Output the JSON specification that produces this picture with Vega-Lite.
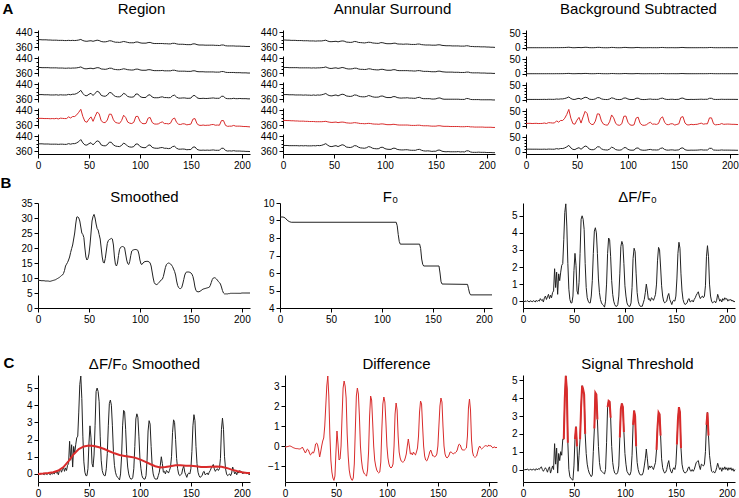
{
"$schema":"https://vega.github.io/schema/vega-lite/v6.json",
"padding":{"left":0,"top":1,"right":0,"bottom":0},
"background":"white",
"config":{"view":{"stroke":null},"font":"Liberation Sans",
"axis":{"grid":false,"domainColor":"#000","tickColor":"#000","tickSize":4,"labelColor":"#000","labelFontSize":10,"labelFont":"Liberation Sans","labelPadding":2,"labelFlush":false,"labelOverlap":false,"titleColor":"#000","titleFont":"Liberation Sans","titleFontSize":15,"titleFontWeight":"normal"},
"line":{"color":"#222","strokeWidth":1}},
"datasets":{
"A":[
{"x":0,"r1":400,"r2":390,"r3":384,"r4":396,"r5":399,"a1":398,"a2":390,"a3":384,"a4":385,"a5":390,"b1":0,"b2":0,"b3":1,"b4":8,"b5":9},
{"x":2,"r1":400,"r2":390,"r3":384,"r4":396,"r5":399,"a1":398,"a2":390,"a3":384,"a4":385,"a5":390,"b1":0,"b2":0,"b3":1,"b4":8.2,"b5":9},
{"x":4,"r1":399,"r2":389,"r3":384,"r4":396,"r5":399,"a1":397,"a2":390,"a3":384,"a4":384,"a5":390,"b1":0,"b2":0,"b3":1,"b4":8.3,"b5":8.9},
{"x":6,"r1":399,"r2":389,"r3":383,"r4":395,"r5":398,"a1":397,"a2":389,"a3":383,"a4":384,"a5":389,"b1":0,"b2":0,"b3":0.9,"b4":7.6,"b5":8.8},
{"x":8,"r1":399,"r2":389,"r3":383,"r4":395,"r5":398,"a1":396,"a2":389,"a3":383,"a4":383,"a5":389,"b1":0,"b2":0,"b3":1,"b4":8,"b5":8.8},
{"x":10,"r1":398,"r2":389,"r3":383,"r4":395,"r5":398,"a1":396,"a2":389,"a3":383,"a4":383,"a5":389,"b1":0,"b2":0,"b3":1,"b4":8.3,"b5":8.8},
{"x":12,"r1":398,"r2":388,"r3":382,"r4":394,"r5":397,"a1":396,"a2":389,"a3":382,"a4":382,"a5":389,"b1":0,"b2":0,"b3":0.9,"b4":7.6,"b5":8.7},
{"x":14,"r1":397,"r2":388,"r3":382,"r4":395,"r5":397,"a1":395,"a2":389,"a3":382,"a4":382,"a5":389,"b1":0,"b2":0,"b3":1,"b4":7.8,"b5":8.6},
{"x":16,"r1":397,"r2":388,"r3":382,"r4":394,"r5":397,"a1":395,"a2":388,"a3":382,"a4":381,"a5":388,"b1":0,"b2":0,"b3":1,"b4":8,"b5":8.6},
{"x":18,"r1":397,"r2":388,"r3":383,"r4":396,"r5":397,"a1":395,"a2":388,"a3":382,"a4":381,"a5":389,"b1":0,"b2":0,"b3":1.2,"b4":9.4,"b5":8.9},
{"x":20,"r1":396,"r2":387,"r3":381,"r4":393,"r5":396,"a1":394,"a2":388,"a3":381,"a4":381,"a5":388,"b1":0,"b2":0,"b3":0.9,"b4":7.6,"b5":8.4},
{"x":22,"r1":396,"r2":387,"r3":383,"r4":397,"r5":397,"a1":394,"a2":388,"a3":382,"a4":380,"a5":389,"b1":0.1,"b2":0.1,"b3":1.5,"b4":10.7,"b5":9.2},
{"x":24,"r1":396,"r2":387,"r3":382,"r4":396,"r5":397,"a1":394,"a2":388,"a3":381,"a4":380,"a5":388,"b1":0.1,"b2":0,"b3":1.4,"b4":10.3,"b5":9},
{"x":26,"r1":395,"r2":386,"r3":382,"r4":395,"r5":396,"a1":393,"a2":388,"a3":381,"a4":379,"a5":388,"b1":0,"b2":0,"b3":1.2,"b4":9.4,"b5":8.7},
{"x":28,"r1":395,"r2":386,"r3":382,"r4":395,"r5":396,"a1":393,"a2":387,"a3":380,"a4":379,"a5":388,"b1":0.1,"b2":0,"b3":1.3,"b4":9.8,"b5":8.8},
{"x":30,"r1":396,"r2":387,"r3":385,"r4":404,"r5":400,"a1":393,"a2":388,"a3":382,"a4":379,"a5":389,"b1":0.3,"b2":0.2,"b3":2.5,"b4":17,"b5":10.8},
{"x":32,"r1":395,"r2":386,"r3":383,"r4":398,"r5":397,"a1":392,"a2":387,"a3":380,"a4":378,"a5":388,"b1":0.2,"b2":0.1,"b3":1.8,"b4":12.3,"b5":9.4},
{"x":34,"r1":396,"r2":387,"r3":386,"r4":406,"r5":400,"a1":393,"a2":388,"a3":382,"a4":378,"a5":390,"b1":0.4,"b2":0.2,"b3":2.8,"b4":18.4,"b5":11.2},
{"x":36,"r1":395,"r2":387,"r3":386,"r4":406,"r5":400,"a1":393,"a2":388,"a3":381,"a4":378,"a5":389,"b1":0.4,"b2":0.2,"b3":2.8,"b4":18.2,"b5":11.1},
{"x":38,"r1":396,"r2":388,"r3":390,"r4":415,"r5":404,"a1":393,"a2":389,"a3":383,"a4":378,"a5":391,"b1":0.6,"b2":0.4,"b3":4.2,"b4":26.1,"b5":13.3},
{"x":40,"r1":398,"r2":390,"r3":397,"r4":429,"r5":411,"a1":395,"a2":390,"a3":386,"a4":379,"a5":395,"b1":1.1,"b2":0.7,"b3":6.4,"b4":39.4,"b5":17},
{"x":42,"r1":401,"r2":393,"r3":407,"r4":445,"r5":422,"a1":397,"a2":393,"a3":390,"a4":380,"a5":400,"b1":1.7,"b2":1.1,"b3":9.6,"b4":57,"b5":22.2},
{"x":44,"r1":395,"r2":387,"r3":390,"r4":406,"r5":404,"a1":392,"a2":388,"a3":382,"a4":377,"a5":391,"b1":0.7,"b2":0.4,"b3":4.3,"b4":26.4,"b5":13.4},
{"x":46,"r1":392,"r2":383,"r3":379,"r4":380,"r5":393,"a1":389,"a2":385,"a3":378,"a4":375,"a5":385,"b1":0,"b2":0,"b3":1.2,"b4":7.3,"b5":8.1},
{"x":48,"r1":391,"r2":383,"r3":378,"r4":375,"r5":392,"a1":389,"a2":385,"a3":377,"a4":374,"a5":384,"b1":0,"b2":0,"b3":0.9,"b4":5.3,"b5":7.5},
{"x":50,"r1":393,"r2":385,"r3":386,"r4":392,"r5":400,"a1":390,"a2":387,"a3":380,"a4":375,"a5":387,"b1":0.5,"b2":0.3,"b3":3.3,"b4":19.5,"b5":11.5},
{"x":52,"r1":394,"r2":386,"r3":391,"r4":404,"r5":405,"a1":391,"a2":388,"a3":382,"a4":376,"a5":389,"b1":0.8,"b2":0.5,"b3":4.9,"b4":29.2,"b5":14.1},
{"x":54,"r1":391,"r2":383,"r3":379,"r4":380,"r5":393,"a1":388,"a2":385,"a3":377,"a4":373,"a5":384,"b1":0.1,"b2":0.1,"b3":1.6,"b4":9.2,"b5":8.5},
{"x":56,"r1":394,"r2":386,"r3":391,"r4":406,"r5":405,"a1":391,"a2":387,"a3":382,"a4":375,"a5":389,"b1":0.8,"b2":0.6,"b3":5.2,"b4":30.6,"b5":14.5},
{"x":58,"r1":397,"r2":389,"r3":402,"r4":430,"r5":415,"a1":393,"a2":390,"a3":386,"a4":376,"a5":394,"b1":1.5,"b2":1,"b3":8.5,"b4":50.2,"b5":19.9},
{"x":60,"r1":395,"r2":388,"r3":397,"r4":421,"r5":411,"a1":392,"a2":388,"a3":384,"a4":375,"a5":391,"b1":1.3,"b2":0.8,"b3":7.3,"b4":42.8,"b5":17.8},
{"x":62,"r1":390,"r2":382,"r3":380,"r4":383,"r5":393,"a1":387,"a2":384,"a3":377,"a4":372,"a5":382,"b1":0.2,"b2":0.2,"b3":2.2,"b4":12.2,"b5":9.3},
{"x":64,"r1":388,"r2":381,"r3":376,"r4":374,"r5":389,"a1":386,"a2":382,"a3":375,"a4":371,"a5":380,"b1":0,"b2":0,"b3":1,"b4":4.9,"b5":7.2},
{"x":66,"r1":388,"r2":380,"r3":375,"r4":373,"r5":388,"a1":385,"a2":382,"a3":374,"a4":370,"a5":379,"b1":0,"b2":0,"b3":0.9,"b4":4,"b5":6.9},
{"x":68,"r1":390,"r2":382,"r3":381,"r4":387,"r5":394,"a1":386,"a2":383,"a3":376,"a4":371,"a5":382,"b1":0.4,"b2":0.2,"b3":2.8,"b4":15.6,"b5":10.1},
{"x":70,"r1":394,"r2":386,"r3":395,"r4":419,"r5":408,"a1":390,"a2":386,"a3":382,"a4":373,"a5":389,"b1":1.2,"b2":0.8,"b3":7.2,"b4":41.6,"b5":17.2},
{"x":72,"r1":393,"r2":386,"r3":394,"r4":418,"r5":407,"a1":389,"a2":386,"a3":381,"a4":372,"a5":388,"b1":1.2,"b2":0.8,"b3":7,"b4":40.7,"b5":16.9},
{"x":74,"r1":389,"r2":381,"r3":381,"r4":388,"r5":393,"a1":385,"a2":382,"a3":376,"a4":370,"a5":381,"b1":0.4,"b2":0.3,"b3":3,"b4":16.4,"b5":10.2},
{"x":76,"r1":386,"r2":379,"r3":374,"r4":374,"r5":387,"a1":384,"a2":380,"a3":373,"a4":368,"a5":377,"b1":0,"b2":0,"b3":1.2,"b4":5.5,"b5":7.1},
{"x":78,"r1":386,"r2":378,"r3":372,"r4":371,"r5":385,"a1":383,"a2":380,"a3":372,"a4":368,"a5":376,"b1":-0.1,"b2":0,"b3":0.7,"b4":2.8,"b5":6.3},
{"x":80,"r1":385,"r2":378,"r3":372,"r4":369,"r5":384,"a1":382,"a2":379,"a3":372,"a4":367,"a5":375,"b1":-0.1,"b2":-0.1,"b3":0.6,"b4":1.8,"b5":5.9},
{"x":82,"r1":387,"r2":380,"r3":378,"r4":384,"r5":390,"a1":384,"a2":380,"a3":374,"a4":368,"a5":378,"b1":0.3,"b2":0.2,"b3":2.5,"b4":13.5,"b5":9.1},
{"x":84,"r1":390,"r2":383,"r3":391,"r4":413,"r5":403,"a1":386,"a2":383,"a3":379,"a4":369,"a5":384,"b1":1.1,"b2":0.7,"b3":6.6,"b4":37.7,"b5":15.9},
{"x":86,"r1":388,"r2":381,"r3":385,"r4":401,"r5":397,"a1":385,"a2":382,"a3":376,"a4":368,"a5":381,"b1":0.8,"b2":0.5,"b3":4.9,"b4":27.8,"b5":13},
{"x":88,"r1":385,"r2":378,"r3":374,"r4":376,"r5":386,"a1":382,"a2":379,"a3":372,"a4":366,"a5":375,"b1":0.1,"b2":0.1,"b3":1.6,"b4":7.9,"b5":7.4},
{"x":90,"r1":383,"r2":377,"r3":371,"r4":370,"r5":382,"a1":381,"a2":378,"a3":370,"a4":365,"a5":373,"b1":-0.1,"b2":0,"b3":0.7,"b4":2.5,"b5":5.8},
{"x":92,"r1":383,"r2":376,"r3":370,"r4":368,"r5":381,"a1":380,"a2":377,"a3":370,"a4":365,"a5":372,"b1":-0.1,"b2":-0.1,"b3":0.6,"b4":1.5,"b5":5.5},
{"x":94,"r1":383,"r2":377,"r3":372,"r4":375,"r5":384,"a1":380,"a2":377,"a3":371,"a4":364,"a5":373,"b1":0.1,"b2":0.1,"b3":1.5,"b4":6.9,"b5":6.9},
{"x":96,"r1":387,"r2":381,"r3":387,"r4":406,"r5":398,"a1":384,"a2":380,"a3":376,"a4":366,"a5":380,"b1":1,"b2":0.6,"b3":5.8,"b4":32.9,"b5":14.1},
{"x":98,"r1":387,"r2":381,"r3":387,"r4":407,"r5":398,"a1":383,"a2":380,"a3":376,"a4":366,"a5":380,"b1":1,"b2":0.7,"b3":6,"b4":33.8,"b5":14.3},
{"x":100,"r1":383,"r2":377,"r3":374,"r4":381,"r5":385,"a1":380,"a2":377,"a3":371,"a4":364,"a5":373,"b1":0.3,"b2":0.2,"b3":2.4,"b4":12.1,"b5":8.3},
{"x":102,"r1":381,"r2":375,"r3":369,"r4":369,"r5":380,"a1":378,"a2":375,"a3":368,"a4":362,"a5":370,"b1":0,"b2":0,"b3":0.9,"b4":3.1,"b5":5.7},
{"x":104,"r1":381,"r2":375,"r3":368,"r4":367,"r5":378,"a1":378,"a2":375,"a3":368,"a4":362,"a5":369,"b1":-0.1,"b2":-0.1,"b3":0.6,"b4":1.3,"b5":5.2},
{"x":106,"r1":381,"r2":375,"r3":369,"r4":369,"r5":379,"a1":378,"a2":375,"a3":368,"a4":362,"a5":369,"b1":0,"b2":0,"b3":0.9,"b4":3.1,"b5":5.7},
{"x":108,"r1":384,"r2":378,"r3":381,"r4":397,"r5":391,"a1":380,"a2":378,"a3":373,"a4":364,"a5":375,"b1":0.8,"b2":0.5,"b3":4.8,"b4":26.5,"b5":12.2},
{"x":110,"r1":385,"r2":378,"r3":383,"r4":401,"r5":393,"a1":381,"a2":378,"a3":373,"a4":363,"a5":375,"b1":0.9,"b2":0.6,"b3":5.4,"b4":30.1,"b5":13.2},
{"x":112,"r1":381,"r2":375,"r3":371,"r4":374,"r5":380,"a1":377,"a2":374,"a3":368,"a4":361,"a5":369,"b1":0.2,"b2":0.1,"b3":1.8,"b4":8.5,"b5":7.1},
{"x":114,"r1":379,"r2":373,"r3":367,"r4":366,"r5":376,"a1":376,"a2":373,"a3":366,"a4":360,"a5":367,"b1":-0.1,"b2":0,"b3":0.7,"b4":2.2,"b5":5.4},
{"x":116,"r1":379,"r2":373,"r3":367,"r4":365,"r5":375,"a1":376,"a2":373,"a3":365,"a4":360,"a5":366,"b1":-0.1,"b2":-0.1,"b3":0.6,"b4":1.3,"b5":5.1},
{"x":118,"r1":379,"r2":373,"r3":367,"r4":366,"r5":375,"a1":375,"a2":373,"a3":366,"a4":360,"a5":366,"b1":0,"b2":0,"b3":0.9,"b4":3.1,"b5":5.6},
{"x":120,"r1":379,"r2":373,"r3":370,"r4":373,"r5":378,"a1":376,"a2":373,"a3":366,"a4":360,"a5":367,"b1":0.2,"b2":0.1,"b3":1.8,"b4":8.5,"b5":7.1},
{"x":122,"r1":379,"r2":374,"r3":372,"r4":377,"r5":379,"a1":376,"a2":373,"a3":367,"a4":360,"a5":367,"b1":0.3,"b2":0.2,"b3":2.4,"b4":12.1,"b5":8.1},
{"x":124,"r1":378,"r2":372,"r3":368,"r4":368,"r5":375,"a1":375,"a2":372,"a3":365,"a4":359,"a5":365,"b1":0,"b2":0,"b3":1.2,"b4":5.4,"b5":6.2},
{"x":126,"r1":378,"r2":372,"r3":368,"r4":368,"r5":375,"a1":374,"a2":372,"a3":365,"a4":358,"a5":364,"b1":0.1,"b2":0,"b3":1.3,"b4":5.8,"b5":6.3},
{"x":128,"r1":377,"r2":372,"r3":367,"r4":366,"r5":373,"a1":374,"a2":371,"a3":364,"a4":358,"a5":364,"b1":0,"b2":0,"b3":1.1,"b4":4.5,"b5":5.9},
{"x":130,"r1":377,"r2":372,"r3":368,"r4":370,"r5":375,"a1":374,"a2":371,"a3":364,"a4":358,"a5":364,"b1":0.1,"b2":0.1,"b3":1.6,"b4":7.6,"b5":6.7},
{"x":132,"r1":380,"r2":375,"r3":378,"r4":392,"r5":384,"a1":376,"a2":373,"a3":368,"a4":359,"a5":368,"b1":0.7,"b2":0.5,"b3":4.6,"b4":25.6,"b5":11.7},
{"x":134,"r1":380,"r2":375,"r3":381,"r4":398,"r5":386,"a1":376,"a2":373,"a3":369,"a4":359,"a5":369,"b1":0.9,"b2":0.6,"b3":5.5,"b4":31,"b5":13.2},
{"x":136,"r1":377,"r2":372,"r3":370,"r4":374,"r5":375,"a1":373,"a2":371,"a3":364,"a4":357,"a5":364,"b1":0.3,"b2":0.2,"b3":2.4,"b4":12.1,"b5":7.9},
{"x":138,"r1":375,"r2":370,"r3":365,"r4":364,"r5":370,"a1":372,"a2":369,"a3":362,"a4":356,"a5":361,"b1":0,"b2":0,"b3":1,"b4":4,"b5":5.7},
{"x":140,"r1":375,"r2":370,"r3":365,"r4":363,"r5":370,"a1":371,"a2":369,"a3":362,"a4":356,"a5":360,"b1":0,"b2":0,"b3":0.9,"b4":3.6,"b5":5.5},
{"x":142,"r1":375,"r2":370,"r3":366,"r4":367,"r5":371,"a1":371,"a2":369,"a3":362,"a4":356,"a5":361,"b1":0.1,"b2":0.1,"b3":1.5,"b4":6.7,"b5":6.4},
{"x":144,"r1":374,"r2":370,"r3":366,"r4":366,"r5":370,"a1":371,"a2":368,"a3":362,"a4":355,"a5":360,"b1":0.1,"b2":0.1,"b3":1.5,"b4":6.7,"b5":6.3},
{"x":146,"r1":373,"r2":369,"r3":364,"r4":361,"r5":367,"a1":370,"a2":367,"a3":360,"a4":354,"a5":358,"b1":-0.1,"b2":0,"b3":0.7,"b4":2.2,"b5":5.2},
{"x":148,"r1":373,"r2":369,"r3":364,"r4":363,"r5":368,"a1":370,"a2":367,"a3":360,"a4":354,"a5":359,"b1":0,"b2":0,"b3":1.1,"b4":4.5,"b5":5.8},
{"x":150,"r1":373,"r2":369,"r3":365,"r4":365,"r5":368,"a1":370,"a2":367,"a3":361,"a4":354,"a5":359,"b1":0.1,"b2":0.1,"b3":1.5,"b4":6.7,"b5":6.5},
{"x":152,"r1":377,"r2":372,"r3":378,"r4":392,"r5":381,"a1":372,"a2":370,"a3":365,"a4":356,"a5":365,"b1":0.8,"b2":0.6,"b3":5.2,"b4":29.2,"b5":12.5},
{"x":154,"r1":377,"r2":372,"r3":379,"r4":395,"r5":382,"a1":372,"a2":370,"a3":366,"a4":356,"a5":365,"b1":0.9,"b2":0.6,"b3":5.7,"b4":31.9,"b5":13.3},
{"x":156,"r1":373,"r2":368,"r3":367,"r4":367,"r5":369,"a1":369,"a2":367,"a3":361,"a4":354,"a5":359,"b1":0.2,"b2":0.1,"b3":1.9,"b4":9.4,"b5":7},
{"x":158,"r1":371,"r2":367,"r3":363,"r4":359,"r5":365,"a1":368,"a2":366,"a3":359,"a4":353,"a5":357,"b1":0,"b2":0,"b3":0.9,"b4":3.1,"b5":5.2},
{"x":160,"r1":371,"r2":367,"r3":363,"r4":358,"r5":364,"a1":367,"a2":365,"a3":359,"a4":353,"a5":356,"b1":0,"b2":0,"b3":0.8,"b4":2.7,"b5":5.1},
{"x":162,"r1":371,"r2":367,"r3":364,"r4":360,"r5":365,"a1":367,"a2":365,"a3":359,"a4":353,"a5":357,"b1":0,"b2":0,"b3":1.2,"b4":4.9,"b5":5.5},
{"x":164,"r1":370,"r2":366,"r3":363,"r4":358,"r5":364,"a1":367,"a2":365,"a3":359,"a4":352,"a5":356,"b1":0,"b2":0,"b3":0.9,"b4":3.6,"b5":5.3},
{"x":166,"r1":370,"r2":366,"r3":363,"r4":359,"r5":365,"a1":366,"a2":365,"a3":359,"a4":352,"a5":356,"b1":0,"b2":0,"b3":1.1,"b4":4.5,"b5":5.4},
{"x":168,"r1":370,"r2":366,"r3":364,"r4":359,"r5":364,"a1":366,"a2":364,"a3":359,"a4":352,"a5":356,"b1":0,"b2":0,"b3":1.2,"b4":4.9,"b5":5.6},
{"x":170,"r1":370,"r2":366,"r3":365,"r4":362,"r5":365,"a1":366,"a2":364,"a3":359,"a4":352,"a5":356,"b1":0.1,"b2":0.1,"b3":1.5,"b4":7.2,"b5":6.2},
{"x":172,"r1":370,"r2":366,"r3":366,"r4":363,"r5":366,"a1":366,"a2":364,"a3":359,"a4":352,"a5":357,"b1":0.2,"b2":0.1,"b3":1.8,"b4":9,"b5":6.8},
{"x":174,"r1":369,"r2":365,"r3":364,"r4":359,"r5":364,"a1":365,"a2":363,"a3":358,"a4":351,"a5":355,"b1":0,"b2":0,"b3":1.2,"b4":5.4,"b5":5.8},
{"x":176,"r1":369,"r2":365,"r3":364,"r4":360,"r5":364,"a1":365,"a2":363,"a3":358,"a4":351,"a5":356,"b1":0.1,"b2":0.1,"b3":1.5,"b4":6.7,"b5":6},
{"x":178,"r1":368,"r2":365,"r3":364,"r4":359,"r5":364,"a1":365,"a2":363,"a3":358,"a4":351,"a5":355,"b1":0.1,"b2":0.1,"b3":1.5,"b4":6.7,"b5":6},
{"x":180,"r1":371,"r2":368,"r3":375,"r4":384,"r5":375,"a1":367,"a2":365,"a3":363,"a4":352,"a5":361,"b1":0.8,"b2":0.5,"b3":4.9,"b4":27.4,"b5":11.8},
{"x":182,"r1":371,"r2":368,"r3":375,"r4":384,"r5":375,"a1":366,"a2":365,"a3":362,"a4":352,"a5":361,"b1":0.8,"b2":0.5,"b3":4.9,"b4":27.4,"b5":11.8},
{"x":184,"r1":367,"r2":364,"r3":364,"r4":358,"r5":363,"a1":363,"a2":362,"a3":358,"a4":350,"a5":355,"b1":0.1,"b2":0.1,"b3":1.5,"b4":6.7,"b5":6},
{"x":186,"r1":366,"r2":363,"r3":362,"r4":353,"r5":360,"a1":363,"a2":361,"a3":357,"a4":350,"a5":353,"b1":0,"b2":0,"b3":0.9,"b4":3.1,"b5":5.5},
{"x":188,"r1":366,"r2":363,"r3":362,"r4":354,"r5":361,"a1":362,"a2":361,"a3":357,"a4":349,"a5":353,"b1":0,"b2":0,"b3":1,"b4":4,"b5":5.2},
{"x":190,"r1":366,"r2":363,"r3":362,"r4":354,"r5":360,"a1":362,"a2":361,"a3":357,"a4":349,"a5":353,"b1":0,"b2":0,"b3":1.1,"b4":4.5,"b5":5.3},
{"x":192,"r1":366,"r2":363,"r3":364,"r4":358,"r5":362,"a1":362,"a2":361,"a3":357,"a4":349,"a5":354,"b1":0.1,"b2":0.1,"b3":1.6,"b4":7.6,"b5":6.2},
{"x":194,"r1":365,"r2":362,"r3":362,"r4":354,"r5":360,"a1":361,"a2":360,"a3":356,"a4":349,"a5":353,"b1":0,"b2":0,"b3":1.2,"b4":4.9,"b5":5.5},
{"x":196,"r1":365,"r2":362,"r3":362,"r4":354,"r5":360,"a1":361,"a2":360,"a3":356,"a4":349,"a5":353,"b1":0,"b2":0,"b3":1.2,"b4":5.4,"b5":5.6},
{"x":198,"r1":365,"r2":362,"r3":363,"r4":354,"r5":360,"a1":361,"a2":360,"a3":356,"a4":348,"a5":353,"b1":0.1,"b2":0,"b3":1.3,"b4":5.8,"b5":5.6},
{"x":200,"r1":364,"r2":361,"r3":362,"r4":353,"r5":359,"a1":360,"a2":359,"a3":356,"a4":348,"a5":352,"b1":0,"b2":0,"b3":1.2,"b4":5.4,"b5":5.5},
{"x":202,"r1":364,"r2":361,"r3":362,"r4":352,"r5":359,"a1":360,"a2":359,"a3":356,"a4":348,"a5":352,"b1":0,"b2":0,"b3":1.2,"b4":4.9,"b5":5.3},
{"x":204,"r1":363,"r2":361,"r3":362,"r4":352,"r5":358,"a1":359,"a2":359,"a3":356,"a4":348,"a5":352,"b1":0,"b2":0,"b3":1.2,"b4":4.9,"b5":5.3},
{"x":206,"r1":363,"r2":360,"r3":361,"r4":351,"r5":358,"a1":359,"a2":358,"a3":355,"a4":347,"a5":351,"b1":0,"b2":0,"b3":1.1,"b4":4.5,"b5":5.1},
{"x":208,"r1":363,"r2":360,"r3":361,"r4":350,"r5":357,"a1":358,"a2":358,"a3":355,"a4":347,"a5":351,"b1":0,"b2":0,"b3":1,"b4":4,"b5":5}
],
"M":[
{"x":0,"s":9.2,"d":0,"e":-0.05,"t":0},{"x":1,"s":9.2,"d":-0.05,"e":-0.05,"t":-0.05},{"x":2,"s":9.2,"d":0.02,"e":-0.03,"t":0.02},{"x":3,"s":9.1,"d":-0.03,"e":-0.03,"t":-0.03},{"x":4,"s":9.1,"d":0.03,"e":0,"t":0.03},{"x":5,"s":9.1,"d":0,"e":0,"t":0},{"x":6,"s":9.1,"d":-0.05,"e":-0.02,"t":-0.05},{"x":7,"s":9.0,"d":0.02,"e":-0.05,"t":0.02},{"x":8,"s":9.0,"d":0,"e":-0.08,"t":0},{"x":9,"s":9.0,"d":-0.04,"e":-0.1,"t":-0.04},
{"x":10,"s":9.0,"d":0.03,"e":-0.12,"t":0.03},{"x":11,"s":8.9,"d":0,"e":-0.13,"t":0},{"x":12,"s":8.9,"d":-0.05,"e":-0.13,"t":-0.05},{"x":13,"s":9.0,"d":0.05,"e":-0.14,"t":0.05},{"x":14,"s":9.1,"d":-0.02,"e":-0.15,"t":-0.02},{"x":15,"s":9.2,"d":0.05,"e":-0.14,"t":0.05},{"x":16,"s":9.3,"d":0,"e":-0.12,"t":0},{"x":17,"s":9.4,"d":0.15,"e":-0.05,"t":0.1},{"x":18,"s":9.6,"d":0.05,"e":-0.15,"t":0.15},{"x":19,"s":9.8,"d":0.1,"e":-0.25,"t":0},
{"x":20,"s":10.0,"d":-0.05,"e":-0.35,"t":-0.1},{"x":21,"s":10.2,"d":0.2,"e":-0.25,"t":0},{"x":22,"s":10.5,"d":0.3,"e":-0.15,"t":0.1},{"x":23,"s":10.8,"d":0.1,"e":-0.2,"t":0},{"x":24,"s":11.0,"d":0.25,"e":-0.35,"t":-0.15},{"x":25,"s":11.5,"d":0.4,"e":-0.45,"t":0.05},{"x":26,"s":12.5,"d":0.15,"e":-0.4,"t":0.15},{"x":27,"s":14.0,"d":0.35,"e":-0.3,"t":-0.2},{"x":28,"s":14.6,"d":0.2,"e":-0.35,"t":0},{"x":29,"s":15.2,"d":0.5,"e":-0.2,"t":0.2},
{"x":30,"s":16.0,"d":0.6,"e":0.1,"t":0},{"x":31,"s":17.0,"d":1.9,"e":0.15,"t":1.45},{"x":32,"s":18.5,"d":0.8,"e":0.05,"t":0.3},{"x":33,"s":19.8,"d":1.7,"e":-0.2,"t":1.2},{"x":34,"s":21.0,"d":0.4,"e":-0.55,"t":-0.2},{"x":35,"s":23.0,"d":1.6,"e":-0.3,"t":0.9},{"x":36,"s":25.0,"d":1.2,"e":0,"t":0.5},{"x":37,"s":28.0,"d":1.7,"e":0.25,"t":1.0},{"x":38,"s":30.3,"d":2.1,"e":0.4,"t":0.8},{"x":39,"s":30.4,"d":2.2,"e":1.0,"t":1.7},
{"x":40,"s":30.0,"d":3.6,"e":2.0,"t":1.7,"r":1},{"x":41,"s":29.0,"d":5.2,"e":3.0,"t":4.0,"r":1},{"x":42,"s":27.0,"d":5.7,"e":3.5,"t":5.25,"r":1},{"x":43,"s":25.0,"d":4.4,"e":2.5,"t":4.5,"r":1},{"x":44,"s":24.5,"d":2.2,"e":0.6,"t":1.5,"r":1},{"x":45,"s":23.5,"d":0.7,"e":-0.7,"t":0},{"x":46,"s":20.0,"d":0.1,"e":-1.3,"t":-0.4},{"x":47,"s":17.0,"d":-0.1,"e":-1.6,"t":-0.5},{"x":48,"s":16.0,"d":-0.1,"e":-1.72,"t":-0.55},{"x":49,"s":16.5,"d":0.3,"e":-1.5,"t":-0.6},
{"x":50,"s":18.0,"d":1.8,"e":-0.3,"t":0.2},{"x":51,"s":21.0,"d":2.8,"e":0.75,"t":1.7,"r":2},{"x":52,"s":25.0,"d":2.1,"e":0.1,"t":2.4,"r":2},{"x":53,"s":29.0,"d":0.6,"e":-0.7,"t":1.3,"r":2},{"x":54,"s":30.5,"d":0.4,"e":-0.65,"t":-0.1},{"x":55,"s":31.2,"d":1.1,"e":0,"t":0.8},{"x":56,"s":30.0,"d":2.8,"e":1.5,"t":1.7,"r":3},{"x":57,"s":28.0,"d":4.8,"e":2.9,"t":3.5,"r":3},{"x":58,"s":26.5,"d":5.0,"e":3.25,"t":4.7,"r":3},{"x":59,"s":26.0,"d":4.8,"e":3.0,"t":4.5,"r":3},
{"x":60,"s":24.5,"d":4.2,"e":2.4,"t":4.2,"r":3},{"x":61,"s":23.0,"d":2.2,"e":0.6,"t":2.0,"r":3},{"x":62,"s":20.0,"d":0.8,"e":-0.5,"t":0.9},{"x":63,"s":17.0,"d":0.2,"e":-1.2,"t":0.3},{"x":64,"s":15.2,"d":0,"e":-1.5,"t":0},{"x":65,"s":15.0,"d":-0.1,"e":-1.65,"t":-0.2},{"x":66,"s":16.5,"d":-0.1,"e":-1.72,"t":-0.3},{"x":67,"s":19.0,"d":0.3,"e":-1.6,"t":-0.4},{"x":68,"s":21.5,"d":1.2,"e":-0.9,"t":-0.3},{"x":69,"s":22.5,"d":2.8,"e":0.8,"t":1.0},
{"x":70,"s":22.8,"d":4.1,"e":2.5,"t":2.3,"r":4},{"x":71,"s":23.0,"d":4.3,"e":2.9,"t":4.3,"r":4},{"x":72,"s":23.2,"d":4.0,"e":2.6,"t":4.2,"r":4},{"x":73,"s":23.0,"d":2.8,"e":1.5,"t":2.8,"r":4},{"x":74,"s":21.0,"d":1.3,"e":0,"t":1.3},{"x":75,"s":17.0,"d":0.5,"e":-0.7,"t":0.4},{"x":76,"s":14.5,"d":0.1,"e":-1.1,"t":0},{"x":77,"s":14.0,"d":-0.1,"e":-1.3,"t":-0.1},{"x":78,"s":15.0,"d":-0.2,"e":-1.4,"t":-0.15},{"x":79,"s":17.5,"d":-0.25,"e":-1.45,"t":-0.2},
{"x":80,"s":19.5,"d":-0.35,"e":-1.5,"t":-0.25},{"x":81,"s":20.2,"d":0,"e":-1.2,"t":0},{"x":82,"s":20.4,"d":1.0,"e":-0.3,"t":1.5},{"x":83,"s":20.5,"d":2.8,"e":1.5,"t":3.5,"r":5},{"x":84,"s":20.4,"d":3.7,"e":2.5,"t":3.85,"r":5},{"x":85,"s":20.0,"d":3.6,"e":2.3,"t":3.8,"r":5},{"x":86,"s":18.0,"d":2.6,"e":1.2,"t":2.9,"r":5},{"x":87,"s":16.0,"d":1.2,"e":0,"t":1.3},{"x":88,"s":14.8,"d":0.4,"e":-0.7,"t":0.4},{"x":89,"s":14.5,"d":0,"e":-1.0,"t":0},
{"x":90,"s":15.5,"d":-0.2,"e":-1.2,"t":-0.2},{"x":91,"s":17.5,"d":-0.3,"e":-1.3,"t":-0.25},{"x":92,"s":19.0,"d":-0.3,"e":-1.35,"t":-0.25},{"x":93,"s":19.3,"d":-0.2,"e":-1.3,"t":-0.15},{"x":94,"s":19.4,"d":0.3,"e":-0.8,"t":0.2},{"x":95,"s":19.5,"d":1.6,"e":0.8,"t":1.8,"r":6},{"x":96,"s":19.5,"d":3.2,"e":2.1,"t":3.4,"r":6},{"x":97,"s":19.4,"d":3.5,"e":2.45,"t":3.7,"r":6},{"x":98,"s":19.2,"d":3.3,"e":2.2,"t":3.5,"r":6},{"x":99,"s":18.0,"d":2.2,"e":1.2,"t":2.1,"r":6},
{"x":100,"s":16.0,"d":0.9,"e":0,"t":0.9},{"x":101,"s":14.7,"d":0.3,"e":-0.6,"t":0.3},{"x":102,"s":14.5,"d":-0.1,"e":-0.9,"t":-0.1},{"x":103,"s":15.0,"d":-0.25,"e":-1.05,"t":-0.2},{"x":104,"s":15.3,"d":-0.3,"e":-1.1,"t":-0.3},{"x":105,"s":15.5,"d":-0.3,"e":-1.05,"t":-0.3},{"x":106,"s":15.5,"d":-0.1,"e":-0.9,"t":-0.1},{"x":107,"s":15.6,"d":0.8,"e":0,"t":0.8},{"x":108,"s":15.5,"d":2.5,"e":1.6,"t":2.5,"r":7},{"x":109,"s":15.4,"d":3.1,"e":2.15,"t":3.3,"r":7},
{"x":110,"s":15.0,"d":2.9,"e":1.8,"t":3.0,"r":7},{"x":111,"s":14.0,"d":1.6,"e":0.5,"t":1.3,"r":7},{"x":112,"s":12.0,"d":0.5,"e":-0.3,"t":0.4},{"x":113,"s":10.0,"d":0,"e":-0.6,"t":0},{"x":114,"s":8.5,"d":-0.2,"e":-0.75,"t":-0.2},{"x":115,"s":8.0,"d":-0.3,"e":-0.8,"t":-0.3},{"x":116,"s":7.8,"d":-0.3,"e":-0.8,"t":-0.3},{"x":117,"s":7.9,"d":-0.3,"e":-0.75,"t":-0.3},{"x":118,"s":8.2,"d":-0.1,"e":-0.6,"t":-0.15},{"x":119,"s":8.6,"d":0.1,"e":-0.4,"t":0.2},
{"x":120,"s":9.0,"d":0.5,"e":0,"t":0.6},{"x":121,"s":9.4,"d":1.0,"e":0.35,"t":1.15},{"x":122,"s":9.6,"d":0.6,"e":0,"t":0.6},{"x":123,"s":10.5,"d":0.1,"e":-0.4,"t":0},{"x":124,"s":12.0,"d":0.15,"e":-0.35,"t":0.2},{"x":125,"s":13.5,"d":0,"e":-0.45,"t":0.1},{"x":126,"s":14.5,"d":0.2,"e":-0.3,"t":0.2},{"x":127,"s":14.8,"d":0.15,"e":-0.4,"t":0.1},{"x":128,"s":15.0,"d":0.05,"e":-0.45,"t":0},{"x":129,"s":14.9,"d":0.2,"e":-0.3,"t":0.2},
{"x":130,"s":14.7,"d":0.4,"e":-0.1,"t":0.4},{"x":131,"s":14.3,"d":1.0,"e":0.5,"t":1.1,"r":8},{"x":132,"s":13.8,"d":2.4,"e":1.7,"t":2.4,"r":8},{"x":133,"s":13.0,"d":3.15,"e":2.25,"t":3.2,"r":8},{"x":134,"s":12.2,"d":3.0,"e":2.1,"t":3.1,"r":8},{"x":135,"s":11.0,"d":2.0,"e":1.0,"t":1.9,"r":8},{"x":136,"s":9.0,"d":0.9,"e":0,"t":0.6},{"x":137,"s":7.5,"d":0.3,"e":-0.5,"t":0.1},{"x":138,"s":6.8,"d":0,"e":-0.7,"t":-0.1},{"x":139,"s":6.5,"d":-0.1,"e":-0.75,"t":-0.2},
{"x":140,"s":6.5,"d":-0.05,"e":-0.65,"t":-0.15},{"x":141,"s":6.8,"d":0,"e":-0.5,"t":0},{"x":142,"s":8.0,"d":0.3,"e":-0.3,"t":0.3},{"x":143,"s":9.5,"d":0.45,"e":-0.2,"t":0.5},{"x":144,"s":11.0,"d":0.1,"e":-0.35,"t":0.1},{"x":145,"s":11.8,"d":-0.05,"e":-0.5,"t":-0.1},{"x":146,"s":12.0,"d":-0.2,"e":-0.5,"t":-0.2},{"x":147,"s":12.0,"d":0,"e":-0.55,"t":0},{"x":148,"s":12.0,"d":0.05,"e":-0.5,"t":0.1},{"x":149,"s":11.9,"d":0,"e":-0.4,"t":0},
{"x":150,"s":11.7,"d":0.3,"e":0,"t":0.3},{"x":151,"s":11.3,"d":1.3,"e":1.0,"t":1.4,"r":9},{"x":152,"s":10.5,"d":2.8,"e":2.0,"t":2.8,"r":9},{"x":153,"s":9.0,"d":3.45,"e":2.4,"t":3.5,"r":9},{"x":154,"s":7.0,"d":3.1,"e":2.2,"t":3.2,"r":9},{"x":155,"s":5.8,"d":1.6,"e":1.0,"t":1.2,"r":9},{"x":156,"s":5.5,"d":0.6,"e":0,"t":0.3},{"x":157,"s":5.4,"d":0.1,"e":-0.4,"t":0},{"x":158,"s":5.4,"d":-0.1,"e":-0.55,"t":-0.15},{"x":159,"s":5.6,"d":-0.2,"e":-0.6,"t":-0.2},
{"x":160,"s":5.8,"d":-0.15,"e":-0.55,"t":-0.15},{"x":161,"s":6.1,"d":-0.1,"e":-0.45,"t":-0.1},{"x":162,"s":6.3,"d":0.1,"e":-0.3,"t":0.1},{"x":163,"s":6.4,"d":0.15,"e":-0.3,"t":0.15},{"x":164,"s":6.5,"d":-0.05,"e":-0.35,"t":-0.05},{"x":165,"s":6.6,"d":0,"e":-0.4,"t":-0.1},{"x":166,"s":6.7,"d":0.05,"e":-0.35,"t":0},{"x":167,"s":6.8,"d":-0.05,"e":-0.35,"t":-0.1},{"x":168,"s":6.9,"d":0.1,"e":-0.3,"t":0},{"x":169,"s":7.5,"d":0.2,"e":-0.2,"t":0.2},
{"x":170,"s":8.5,"d":0.35,"e":0,"t":0.4},{"x":171,"s":9.5,"d":0.45,"e":0.1,"t":0.45},{"x":172,"s":10.0,"d":0.55,"e":0.05,"t":0.5},{"x":173,"s":10.1,"d":0.3,"e":-0.1,"t":0.2},{"x":174,"s":10.0,"d":0.15,"e":-0.2,"t":0},{"x":175,"s":9.7,"d":0.25,"e":-0.2,"t":0.3},{"x":176,"s":9.3,"d":0.3,"e":-0.2,"t":0.25},{"x":177,"s":8.8,"d":0.2,"e":-0.15,"t":0.2},{"x":178,"s":8.5,"d":0.3,"e":-0.1,"t":0.3},{"x":179,"s":8.0,"d":0.9,"e":0.5,"t":1.0},
{"x":180,"s":7.0,"d":2.6,"e":1.9,"t":2.5,"r":10},{"x":181,"s":5.8,"d":3.25,"e":2.35,"t":3.2,"r":10},{"x":182,"s":5.0,"d":2.6,"e":1.8,"t":1.9,"r":10},{"x":183,"s":4.7,"d":1.0,"e":0.3,"t":0.8},{"x":184,"s":4.7,"d":0.3,"e":-0.3,"t":0.3},{"x":185,"s":4.7,"d":0,"e":-0.5,"t":-0.1},{"x":186,"s":4.7,"d":-0.1,"e":-0.55,"t":-0.15},{"x":187,"s":4.8,"d":-0.05,"e":-0.55,"t":-0.1},{"x":188,"s":4.8,"d":0,"e":-0.5,"t":-0.2},{"x":189,"s":4.9,"d":-0.1,"e":-0.3,"t":-0.1},
{"x":190,"s":4.9,"d":0.05,"e":-0.1,"t":0.1},{"x":191,"s":4.9,"d":0.4,"e":0,"t":0.35},{"x":192,"s":4.9,"d":0.2,"e":-0.1,"t":0.15},{"x":193,"s":4.9,"d":0,"e":-0.15,"t":0},{"x":194,"s":4.9,"d":0.1,"e":-0.1,"t":0.1},{"x":195,"s":4.9,"d":-0.05,"e":-0.05,"t":-0.1},{"x":196,"s":4.9,"d":0.15,"e":0,"t":0.1},{"x":197,"s":4.9,"d":0.05,"e":0.02,"t":0},{"x":198,"s":4.9,"d":0.2,"e":0,"t":0.15},{"x":199,"s":4.9,"d":0.1,"e":-0.02,"t":0},
{"x":200,"s":5.0,"d":0.15,"e":0.05,"t":0.1},{"x":201,"s":5.0,"d":0,"e":0,"t":-0.05},{"x":202,"s":5.0,"d":0.1,"e":0.02,"t":0.1},{"x":203,"s":5.0,"d":0.05,"e":-0.05,"t":0},{"x":204,"s":5.0,"d":0.1,"e":-0.1,"t":0.1},{"x":205,"s":5.0,"d":0,"e":-0.05,"t":-0.05},{"x":206,"s":5.0,"d":0.05,"e":-0.05,"t":0.05},{"x":207,"s":5.0,"d":-0.05,"e":-0.1,"t":-0.1},{"x":208,"s":5.0,"d":0,"e":-0.05,"t":0}
],
"F":[{"x":0,"f":9.2},{"x":3,"f":9.2},{"x":5,"f":9.15},{"x":7,"f":9.02},{"x":9,"f":8.94},{"x":11,"f":8.9},{"x":114,"f":8.9},{"x":115,"f":8.7},{"x":116,"f":8.2},{"x":117,"f":7.8},{"x":118,"f":7.65},{"x":137,"f":7.65},{"x":138,"f":7.4},{"x":139,"f":6.8},{"x":140,"f":6.5},{"x":141,"f":6.4},{"x":156,"f":6.4},{"x":157,"f":6.0},{"x":158,"f":5.5},{"x":159,"f":5.37},{"x":184,"f":5.35},{"x":185,"f":5.1},{"x":186,"f":4.85},{"x":187,"f":4.75},{"x":208,"f":4.75}],
"S":[{"x":0,"d":0},{"x":5,"d":0.02},{"x":10,"d":0.05},{"x":15,"d":0.1},{"x":20,"d":0.2},{"x":25,"d":0.4},{"x":30,"d":0.75},{"x":35,"d":1.15},{"x":40,"d":1.45},{"x":45,"d":1.6},{"x":50,"d":1.65},{"x":55,"d":1.63},{"x":60,"d":1.55},{"x":65,"d":1.45},{"x":70,"d":1.32},{"x":75,"d":1.2},{"x":80,"d":1.1},{"x":85,"d":1.05},{"x":90,"d":1.0},{"x":95,"d":0.95},{"x":100,"d":0.85},{"x":105,"d":0.72},{"x":110,"d":0.58},{"x":115,"d":0.45},{"x":120,"d":0.38},{"x":125,"d":0.4},{"x":130,"d":0.45},{"x":135,"d":0.5},{"x":140,"d":0.5},{"x":145,"d":0.48},{"x":150,"d":0.47},{"x":155,"d":0.45},{"x":160,"d":0.4},{"x":165,"d":0.4},{"x":170,"d":0.42},{"x":175,"d":0.43},{"x":180,"d":0.42},{"x":185,"d":0.35},{"x":190,"d":0.25},{"x":195,"d":0.17},{"x":200,"d":0.1},{"x":205,"d":0.06},{"x":208,"d":0.05}]
},
"vconcat":[
{"hconcat":[
{"spacing":6,"bounds":"flush","vconcat":[
{"width":212,"height":20,"data":{"name":"A"},"mark":"line","encoding":{"x":{"field":"x","type":"quantitative","scale":{"domain":[0,208],"nice":false},"axis":null},"y":{"field":"r1","type":"quantitative","scale":{"domain":[344,452],"nice":false,"zero":false},"axis":{"title":"A","titleFontWeight":"bold","titleAngle":0,"titleAlign":"left","titleBaseline":"alphabetic","titleX":-36,"titleY":-17,"values":[360,380,400,420,440],"labelExpr":"datum.value == 360 || datum.value == 440 ? datum.label : ''","tickSize":{"condition":{"test":"datum.value == 360 || datum.value == 440","value":4},"value":2}}}}},
{"width":212,"height":20,"data":{"name":"A"},"mark":"line","encoding":{"x":{"field":"x","type":"quantitative","scale":{"domain":[0,208],"nice":false},"axis":null},"y":{"field":"r2","type":"quantitative","scale":{"domain":[344,452],"nice":false,"zero":false},"axis":{"title":null,"values":[360,380,400,420,440],"labelExpr":"datum.value == 360 || datum.value == 440 ? datum.label : ''","tickSize":{"condition":{"test":"datum.value == 360 || datum.value == 440","value":4},"value":2}}}}},
{"width":212,"height":20,"data":{"name":"A"},"mark":"line","encoding":{"x":{"field":"x","type":"quantitative","scale":{"domain":[0,208],"nice":false},"axis":null},"y":{"field":"r3","type":"quantitative","scale":{"domain":[344,452],"nice":false,"zero":false},"axis":{"title":null,"values":[360,380,400,420,440],"labelExpr":"datum.value == 360 || datum.value == 440 ? datum.label : ''","tickSize":{"condition":{"test":"datum.value == 360 || datum.value == 440","value":4},"value":2}}}}},
{"width":212,"height":20,"data":{"name":"A"},"mark":{"type":"line","color":"#d92b2b"},"encoding":{"x":{"field":"x","type":"quantitative","scale":{"domain":[0,208],"nice":false},"axis":null},"y":{"field":"r4","type":"quantitative","scale":{"domain":[344,452],"nice":false,"zero":false},"axis":{"title":null,"values":[360,380,400,420,440],"labelExpr":"datum.value == 360 || datum.value == 440 ? datum.label : ''","tickSize":{"condition":{"test":"datum.value == 360 || datum.value == 440","value":4},"value":2}}}}},
{"width":212,"height":20,"data":{"name":"A"},"mark":"line","encoding":{"x":{"field":"x","type":"quantitative","scale":{"domain":[0,208],"nice":false},"axis":{"values":[0,50,100,150,200],"title":"Region","titleX":103,"titleY":-141,"titleAlign":"center","titleBaseline":"alphabetic"}},"y":{"field":"r5","type":"quantitative","scale":{"domain":[344,452],"nice":false,"zero":false},"axis":{"title":null,"values":[360,380,400,420,440],"labelExpr":"datum.value == 360 || datum.value == 440 ? datum.label : ''","tickSize":{"condition":{"test":"datum.value == 360 || datum.value == 440","value":4},"value":2}}}}}
]},
{"hconcat":[
{"spacing":6,"bounds":"flush","vconcat":[
{"width":212,"height":20,"data":{"name":"A"},"mark":"line","encoding":{"x":{"field":"x","type":"quantitative","scale":{"domain":[0,208],"nice":false},"axis":null},"y":{"field":"a1","type":"quantitative","scale":{"domain":[344,452],"nice":false,"zero":false},"axis":{"title":null,"values":[360,380,400,420,440],"labelExpr":"datum.value == 360 || datum.value == 440 ? datum.label : ''","tickSize":{"condition":{"test":"datum.value == 360 || datum.value == 440","value":4},"value":2}}}}},
{"width":212,"height":20,"data":{"name":"A"},"mark":"line","encoding":{"x":{"field":"x","type":"quantitative","scale":{"domain":[0,208],"nice":false},"axis":null},"y":{"field":"a2","type":"quantitative","scale":{"domain":[344,452],"nice":false,"zero":false},"axis":{"title":null,"values":[360,380,400,420,440],"labelExpr":"datum.value == 360 || datum.value == 440 ? datum.label : ''","tickSize":{"condition":{"test":"datum.value == 360 || datum.value == 440","value":4},"value":2}}}}},
{"width":212,"height":20,"data":{"name":"A"},"mark":"line","encoding":{"x":{"field":"x","type":"quantitative","scale":{"domain":[0,208],"nice":false},"axis":null},"y":{"field":"a3","type":"quantitative","scale":{"domain":[344,452],"nice":false,"zero":false},"axis":{"title":null,"values":[360,380,400,420,440],"labelExpr":"datum.value == 360 || datum.value == 440 ? datum.label : ''","tickSize":{"condition":{"test":"datum.value == 360 || datum.value == 440","value":4},"value":2}}}}},
{"width":212,"height":20,"data":{"name":"A"},"mark":{"type":"line","color":"#d92b2b"},"encoding":{"x":{"field":"x","type":"quantitative","scale":{"domain":[0,208],"nice":false},"axis":null},"y":{"field":"a4","type":"quantitative","scale":{"domain":[344,452],"nice":false,"zero":false},"axis":{"title":null,"values":[360,380,400,420,440],"labelExpr":"datum.value == 360 || datum.value == 440 ? datum.label : ''","tickSize":{"condition":{"test":"datum.value == 360 || datum.value == 440","value":4},"value":2}}}}},
{"width":212,"height":20,"data":{"name":"A"},"mark":"line","encoding":{"x":{"field":"x","type":"quantitative","scale":{"domain":[0,208],"nice":false},"axis":{"values":[0,50,100,150,200],"title":"Annular Surround","titleX":109,"titleY":-141,"titleAlign":"center","titleBaseline":"alphabetic"}},"y":{"field":"a5","type":"quantitative","scale":{"domain":[344,452],"nice":false,"zero":false},"axis":{"title":null,"values":[360,380,400,420,440],"labelExpr":"datum.value == 360 || datum.value == 440 ? datum.label : ''","tickSize":{"condition":{"test":"datum.value == 360 || datum.value == 440","value":4},"value":2}}}}}
]},
{"spacing":6,"bounds":"flush","vconcat":[
{"width":212,"height":20,"data":{"name":"A"},"mark":"line","encoding":{"x":{"field":"x","type":"quantitative","scale":{"domain":[0,208],"nice":false},"axis":null},"y":{"field":"b1","type":"quantitative","scale":{"domain":[-8,62],"nice":false,"zero":false},"axis":{"title":null,"values":[0,10,20,30,40,50],"labelExpr":"datum.value == 0 || datum.value == 50 ? datum.label : ''","tickSize":{"condition":{"test":"datum.value == 0 || datum.value == 50","value":4},"value":2}}}}},
{"width":212,"height":20,"data":{"name":"A"},"mark":"line","encoding":{"x":{"field":"x","type":"quantitative","scale":{"domain":[0,208],"nice":false},"axis":null},"y":{"field":"b2","type":"quantitative","scale":{"domain":[-8,62],"nice":false,"zero":false},"axis":{"title":null,"values":[0,10,20,30,40,50],"labelExpr":"datum.value == 0 || datum.value == 50 ? datum.label : ''","tickSize":{"condition":{"test":"datum.value == 0 || datum.value == 50","value":4},"value":2}}}}},
{"width":212,"height":20,"data":{"name":"A"},"mark":"line","encoding":{"x":{"field":"x","type":"quantitative","scale":{"domain":[0,208],"nice":false},"axis":null},"y":{"field":"b3","type":"quantitative","scale":{"domain":[-8,62],"nice":false,"zero":false},"axis":{"title":null,"values":[0,10,20,30,40,50],"labelExpr":"datum.value == 0 || datum.value == 50 ? datum.label : ''","tickSize":{"condition":{"test":"datum.value == 0 || datum.value == 50","value":4},"value":2}}}}},
{"width":212,"height":20,"data":{"name":"A"},"mark":{"type":"line","color":"#d92b2b"},"encoding":{"x":{"field":"x","type":"quantitative","scale":{"domain":[0,208],"nice":false},"axis":null},"y":{"field":"b4","type":"quantitative","scale":{"domain":[-8,62],"nice":false,"zero":false},"axis":{"title":null,"values":[0,10,20,30,40,50],"labelExpr":"datum.value == 0 || datum.value == 50 ? datum.label : ''","tickSize":{"condition":{"test":"datum.value == 0 || datum.value == 50","value":4},"value":2}}}}},
{"width":212,"height":20,"data":{"name":"A"},"mark":"line","encoding":{"x":{"field":"x","type":"quantitative","scale":{"domain":[0,208],"nice":false},"axis":{"values":[0,50,100,150,200],"title":"Background Subtracted","titleX":112,"titleY":-141,"titleAlign":"center","titleBaseline":"alphabetic"}},"y":{"field":"b5","type":"quantitative","scale":{"domain":[-8,62],"nice":false,"zero":false},"axis":{"title":null,"values":[0,10,20,30,40,50],"labelExpr":"datum.value == 0 || datum.value == 50 ? datum.label : ''","tickSize":{"condition":{"test":"datum.value == 0 || datum.value == 50","value":4},"value":2}}}}}
]}
],"spacing":11}
],"spacing":8},
{"vconcat":[
{"hconcat":[
{"width":212,"height":105,"data":{"name":"M"},"mark":"line","encoding":{"x":{"field":"x","type":"quantitative","scale":{"domain":[0,208],"nice":false},"axis":{"values":[0,50,100,150,200],"title":"Smoothed","titleX":106,"titleY":-107,"titleAlign":"center","titleBaseline":"alphabetic"}},"y":{"field":"s","type":"quantitative","scale":{"domain":[0,35],"nice":false},"axis":{"values":[0,5,10,15,20,25,30,35],"title":"B","titleFontWeight":"bold","titleAngle":0,"titleAlign":"left","titleBaseline":"alphabetic","titleX":-38,"titleY":-16}}}},
{"hconcat":[
{"width":212,"height":105,"data":{"name":"F"},"mark":"line","encoding":{"x":{"field":"x","type":"quantitative","scale":{"domain":[0,208],"nice":false},"axis":{"values":[0,50,100,150,200],"title":"F₀","titleX":110,"titleY":-107,"titleAlign":"center","titleBaseline":"alphabetic"}},"y":{"field":"f","type":"quantitative","scale":{"domain":[4,10],"nice":false,"zero":false},"axis":{"values":[4,5,6,7,8,9,10],"title":null}}}},
{"width":212,"height":105,"data":{"name":"M"},"mark":"line","encoding":{"x":{"field":"x","type":"quantitative","scale":{"domain":[0,208],"nice":false},"axis":{"values":[0,50,100,150,200],"title":"ΔF/F₀","titleX":114,"titleY":-107,"titleAlign":"center","titleBaseline":"alphabetic"}},"y":{"field":"d","type":"quantitative","scale":{"domain":[-0.4,5.75],"nice":false,"zero":false},"axis":{"values":[0,1,2,3,4,5],"title":null}}}}
],"spacing":17}
],"spacing":10},
{"hconcat":[
{"width":212,"height":107,"encoding":{"x":{"field":"x","type":"quantitative","scale":{"domain":[0,208],"nice":false},"axis":{"values":[0,50,100,150,200],"title":"ΔF/F₀ Smoothed","titleX":106,"titleY":-114,"titleAlign":"center","titleBaseline":"alphabetic"}},"y":{"field":"d","type":"quantitative","scale":{"domain":[-0.47,5.76],"nice":false,"zero":false},"axis":{"values":[0,1,2,3,4,5],"title":"C","titleFontWeight":"bold","titleAngle":0,"titleAlign":"left","titleBaseline":"alphabetic","titleX":-35,"titleY":-8}}},
"layer":[{"data":{"name":"M"},"mark":"line"},{"data":{"name":"S"},"mark":{"type":"line","color":"#d92b2b","strokeWidth":2}}]},
{"hconcat":[
{"width":212,"height":107,"data":{"name":"M"},"mark":{"type":"line","color":"#d92b2b"},"encoding":{"x":{"field":"x","type":"quantitative","scale":{"domain":[0,208],"nice":false},"axis":{"values":[0,50,100,150,200],"title":"Difference","titleX":111,"titleY":-114,"titleAlign":"center","titleBaseline":"alphabetic"}},"y":{"field":"e","type":"quantitative","scale":{"domain":[-1.8,3.55],"nice":false,"zero":false},"axis":{"values":[-1,0,1,2,3],"title":null}}}},
{"width":212,"height":107,"data":{"name":"M"},"encoding":{"x":{"field":"x","type":"quantitative","scale":{"domain":[0,208],"nice":false},"axis":{"values":[0,50,100,150,200],"title":"Signal Threshold","titleX":114,"titleY":-114,"titleAlign":"center","titleBaseline":"alphabetic"}},"y":{"field":"t","type":"quantitative","scale":{"domain":[-0.7,5.3],"nice":false,"zero":false},"axis":{"values":[0,1,2,3,4,5],"title":null}}},
"layer":[{"mark":"line"},{"transform":[{"filter":"datum.r > 0"}],"mark":{"type":"line","color":"#d92b2b","strokeWidth":2},"encoding":{"detail":{"field":"r","type":"nominal"}}}]}
],"spacing":12}
],"spacing":13}
],"spacing":31}
],
"spacing":5
}
